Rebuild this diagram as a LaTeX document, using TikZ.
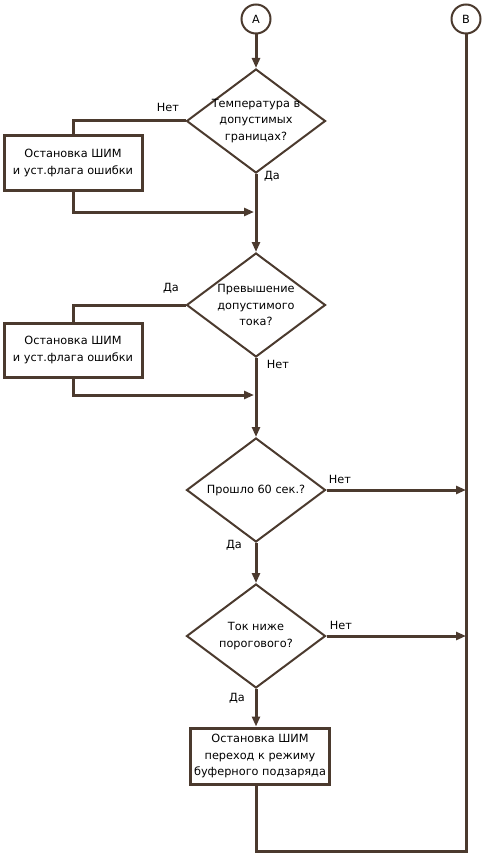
\documentclass[tikz,border=0pt]{standalone}
\usepackage{fontspec}
\setmainfont{DejaVu Sans}
\usetikzlibrary{shapes.geometric,arrows.meta}
\definecolor{flowbrown}{RGB}{75,58,46}

\begin{document}
\begin{tikzpicture}[x=1pt, y=-1pt,
  every node/.style={font=\fontsize{11.3}{16.5}\selectfont, text=black},
  conn/.style={circle, draw=flowbrown, line width=2pt, minimum size=29pt, inner sep=0pt},
  decision/.style={diamond, draw=flowbrown, line width=2pt, minimum width=139pt, minimum height=104pt, inner sep=-9pt, align=center},
  action/.style={rectangle, draw=flowbrown, line width=3pt, minimum width=138pt, minimum height=54pt, align=center},
  flow/.style={draw=flowbrown, line width=3pt},
  flowarr/.style={flow, -{Triangle[length=10pt,width=8pt]}}]
\useasboundingbox (0,0) rectangle (482,853);
\node[conn] (conA) at (256,19) {A};
\node[conn] (conB) at (466,19) {B};
\node[decision] (temp) at (256,121) {Температура в\\допустимых\\границах?};
\node[action] (stop1) at (73,163) {Остановка ШИМ\\и уст.флага ошибки};
\node[decision] (curr) at (256,305) {Превышение\\допустимого\\тока?};
\node[action] (stop2) at (73,350) {Остановка ШИМ\\и уст.флага ошибки};
\node[decision] (timer) at (256,490) {Прошло 60 сек.?};
\node[decision] (thresh) at (256,636) {Ток ниже\\порогового?};
\node[action, minimum height=56pt] (stopbuf) at (260,756) {Остановка ШИМ\\переход к режиму\\буферного подзаряда};
% branch labels
\node (tempno) at (168,107) {Нет};
\node (tempyes) at (272,176) {Да};
\node (curryes) at (171,288) {Да};
\node (currno) at (278,364) {Нет};
\node (timerno) at (340,479) {Нет};
\node (timeryes) at (234,545) {Да};
\node (threshno) at (341,625) {Нет};
\node (threshyes) at (237,698) {Да};
\coordinate (join1) at (254,212);
\coordinate (join2) at (254,395);
\coordinate (loop) at (466,851);
% connectors
\draw[flowarr] (conA) -- (temp.north);
\draw[flow] (temp.west) -| (stop1.north);
\draw[flowarr] (stop1.south) |- (join1);
\draw[flowarr] (temp.south) -- (curr.north);
\draw[flow] (curr.west) -| (stop2.north);
\draw[flowarr] (stop2.south) |- (join2);
\draw[flowarr] (curr.south) -- (timer.north);
\draw[flowarr] (timer.east) -- (timer.east -| conB.south);
\draw[flowarr] (timer.south) -- (thresh.north);
\draw[flowarr] (thresh.east) -- (thresh.east -| conB.south);
\draw[flowarr] (thresh.south) -- (stopbuf.north -| thresh.south);
\draw[flow] (stopbuf.south -| thresh.south) |- (loop) -- (conB.south);
\end{tikzpicture}
\end{document}
